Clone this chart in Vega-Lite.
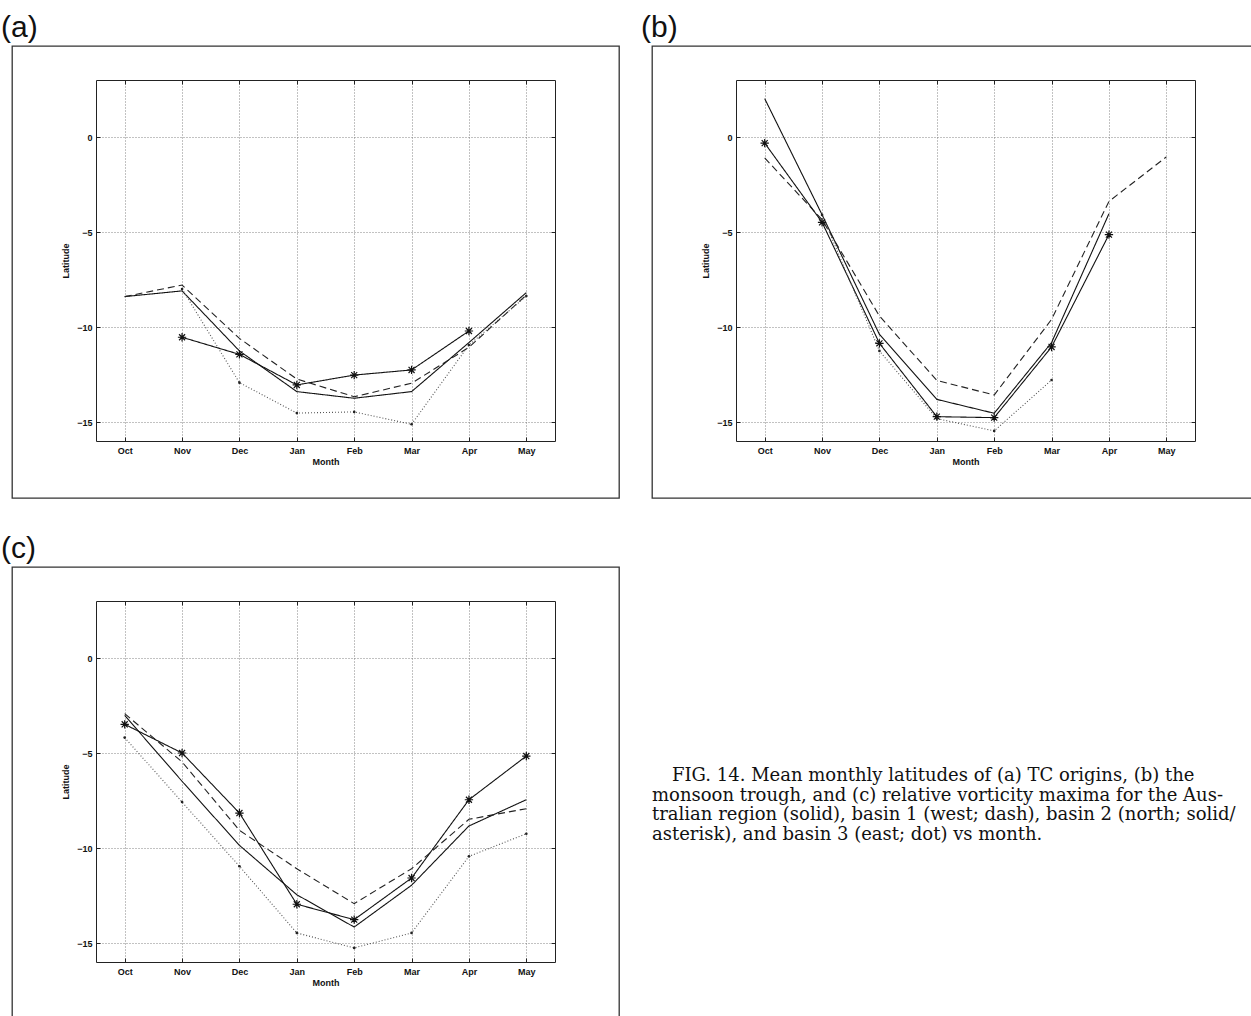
{
  "$schema": "https://vega.github.io/schema/vega-lite/v6.json",
  "background": "white",
  "padding": {"left": 0, "top": 12, "right": 0, "bottom": 0},
  "bounds": "flush",
  "columns": 2,
  "spacing": {"row": 69, "column": 33},
  "datasets": {
    "lat": [
      {"panel": "a", "series": "Australian region", "month": "Oct", "lat": -8.4},
      {"panel": "a", "series": "Australian region", "month": "Nov", "lat": -8.1},
      {"panel": "a", "series": "Australian region", "month": "Dec", "lat": -11.26},
      {"panel": "a", "series": "Australian region", "month": "Jan", "lat": -13.4},
      {"panel": "a", "series": "Australian region", "month": "Feb", "lat": -13.75},
      {"panel": "a", "series": "Australian region", "month": "Mar", "lat": -13.4},
      {"panel": "a", "series": "Australian region", "month": "Apr", "lat": -10.82},
      {"panel": "a", "series": "Australian region", "month": "May", "lat": -8.19},
      {"panel": "a", "series": "basin 1 (west)", "month": "Oct", "lat": -8.4},
      {"panel": "a", "series": "basin 1 (west)", "month": "Nov", "lat": -7.79},
      {"panel": "a", "series": "basin 1 (west)", "month": "Dec", "lat": -10.6},
      {"panel": "a", "series": "basin 1 (west)", "month": "Jan", "lat": -12.74},
      {"panel": "a", "series": "basin 1 (west)", "month": "Feb", "lat": -13.67},
      {"panel": "a", "series": "basin 1 (west)", "month": "Mar", "lat": -12.96},
      {"panel": "a", "series": "basin 1 (west)", "month": "Apr", "lat": -11.07},
      {"panel": "a", "series": "basin 1 (west)", "month": "May", "lat": -8.32},
      {"panel": "a", "series": "basin 2 (north)", "month": "Nov", "lat": -10.54},
      {"panel": "a", "series": "basin 2 (north)", "month": "Dec", "lat": -11.44},
      {"panel": "a", "series": "basin 2 (north)", "month": "Jan", "lat": -13.05},
      {"panel": "a", "series": "basin 2 (north)", "month": "Feb", "lat": -12.53},
      {"panel": "a", "series": "basin 2 (north)", "month": "Mar", "lat": -12.26},
      {"panel": "a", "series": "basin 2 (north)", "month": "Apr", "lat": -10.21},
      {"panel": "a", "series": "basin 3 (east)", "month": "Nov", "lat": -8.0},
      {"panel": "a", "series": "basin 3 (east)", "month": "Dec", "lat": -12.93},
      {"panel": "a", "series": "basin 3 (east)", "month": "Jan", "lat": -14.53},
      {"panel": "a", "series": "basin 3 (east)", "month": "Feb", "lat": -14.47},
      {"panel": "a", "series": "basin 3 (east)", "month": "Mar", "lat": -15.12},
      {"panel": "a", "series": "basin 3 (east)", "month": "Apr", "lat": -10.95},
      {"panel": "a", "series": "basin 3 (east)", "month": "May", "lat": -8.37},

      {"panel": "b", "series": "Australian region", "month": "Oct", "lat": 2.02},
      {"panel": "b", "series": "Australian region", "month": "Nov", "lat": -4.09},
      {"panel": "b", "series": "Australian region", "month": "Dec", "lat": -10.39},
      {"panel": "b", "series": "Australian region", "month": "Jan", "lat": -13.81},
      {"panel": "b", "series": "Australian region", "month": "Feb", "lat": -14.54},
      {"panel": "b", "series": "Australian region", "month": "Mar", "lat": -10.82},
      {"panel": "b", "series": "Australian region", "month": "Apr", "lat": -4.04},
      {"panel": "b", "series": "basin 1 (west)", "month": "Oct", "lat": -1.1},
      {"panel": "b", "series": "basin 1 (west)", "month": "Nov", "lat": -4.35},
      {"panel": "b", "series": "basin 1 (west)", "month": "Dec", "lat": -9.42},
      {"panel": "b", "series": "basin 1 (west)", "month": "Jan", "lat": -12.81},
      {"panel": "b", "series": "basin 1 (west)", "month": "Feb", "lat": -13.58},
      {"panel": "b", "series": "basin 1 (west)", "month": "Mar", "lat": -9.6},
      {"panel": "b", "series": "basin 1 (west)", "month": "Apr", "lat": -3.39},
      {"panel": "b", "series": "basin 1 (west)", "month": "May", "lat": -1.05},
      {"panel": "b", "series": "basin 2 (north)", "month": "Oct", "lat": -0.32},
      {"panel": "b", "series": "basin 2 (north)", "month": "Nov", "lat": -4.49},
      {"panel": "b", "series": "basin 2 (north)", "month": "Dec", "lat": -10.86},
      {"panel": "b", "series": "basin 2 (north)", "month": "Jan", "lat": -14.72},
      {"panel": "b", "series": "basin 2 (north)", "month": "Feb", "lat": -14.77},
      {"panel": "b", "series": "basin 2 (north)", "month": "Mar", "lat": -11.05},
      {"panel": "b", "series": "basin 2 (north)", "month": "Apr", "lat": -5.14},
      {"panel": "b", "series": "basin 3 (east)", "month": "Nov", "lat": -4.1},
      {"panel": "b", "series": "basin 3 (east)", "month": "Dec", "lat": -11.26},
      {"panel": "b", "series": "basin 3 (east)", "month": "Jan", "lat": -14.82},
      {"panel": "b", "series": "basin 3 (east)", "month": "Feb", "lat": -15.47},
      {"panel": "b", "series": "basin 3 (east)", "month": "Mar", "lat": -12.79},

      {"panel": "c", "series": "Australian region", "month": "Oct", "lat": -3.02},
      {"panel": "c", "series": "Australian region", "month": "Nov", "lat": -6.49},
      {"panel": "c", "series": "Australian region", "month": "Dec", "lat": -9.86},
      {"panel": "c", "series": "Australian region", "month": "Jan", "lat": -12.46},
      {"panel": "c", "series": "Australian region", "month": "Feb", "lat": -14.16},
      {"panel": "c", "series": "Australian region", "month": "Mar", "lat": -11.96},
      {"panel": "c", "series": "Australian region", "month": "Apr", "lat": -8.84},
      {"panel": "c", "series": "Australian region", "month": "May", "lat": -7.46},
      {"panel": "c", "series": "basin 1 (west)", "month": "Oct", "lat": -2.93},
      {"panel": "c", "series": "basin 1 (west)", "month": "Nov", "lat": -5.47},
      {"panel": "c", "series": "basin 1 (west)", "month": "Dec", "lat": -9.07},
      {"panel": "c", "series": "basin 1 (west)", "month": "Jan", "lat": -11.09},
      {"panel": "c", "series": "basin 1 (west)", "month": "Feb", "lat": -12.93},
      {"panel": "c", "series": "basin 1 (west)", "month": "Mar", "lat": -11.09},
      {"panel": "c", "series": "basin 1 (west)", "month": "Apr", "lat": -8.49},
      {"panel": "c", "series": "basin 1 (west)", "month": "May", "lat": -7.93},
      {"panel": "c", "series": "basin 2 (north)", "month": "Oct", "lat": -3.49},
      {"panel": "c", "series": "basin 2 (north)", "month": "Nov", "lat": -5.0},
      {"panel": "c", "series": "basin 2 (north)", "month": "Dec", "lat": -8.16},
      {"panel": "c", "series": "basin 2 (north)", "month": "Jan", "lat": -12.96},
      {"panel": "c", "series": "basin 2 (north)", "month": "Feb", "lat": -13.77},
      {"panel": "c", "series": "basin 2 (north)", "month": "Mar", "lat": -11.58},
      {"panel": "c", "series": "basin 2 (north)", "month": "Apr", "lat": -7.46},
      {"panel": "c", "series": "basin 2 (north)", "month": "May", "lat": -5.16},
      {"panel": "c", "series": "basin 3 (east)", "month": "Oct", "lat": -4.19},
      {"panel": "c", "series": "basin 3 (east)", "month": "Nov", "lat": -7.58},
      {"panel": "c", "series": "basin 3 (east)", "month": "Dec", "lat": -10.96},
      {"panel": "c", "series": "basin 3 (east)", "month": "Jan", "lat": -14.47},
      {"panel": "c", "series": "basin 3 (east)", "month": "Feb", "lat": -15.26},
      {"panel": "c", "series": "basin 3 (east)", "month": "Mar", "lat": -14.47},
      {"panel": "c", "series": "basin 3 (east)", "month": "Apr", "lat": -10.44},
      {"panel": "c", "series": "basin 3 (east)", "month": "May", "lat": -9.25}
    ]
  },
  "concat": [
    {
      "width": 607, "height": 452,
      "title": {"text": "(a)", "anchor": "start", "font": "Liberation Sans", "fontSize": 30, "fontWeight": "normal", "color": "#111", "offset": -21, "dx": -11, "baseline": "alphabetic"},
      "data": {"name": "lat"},
      "transform": [{"filter": "datum.panel == 'a'"}],
      "layer": [
        {
          "mark": {"type": "line", "strokeWidth": 1.1},
          "encoding": {
            "x": {"field": "month", "type": "ordinal", "scale": {"type": "point", "domain": ["Oct","Nov","Dec","Jan","Feb","Mar","Apr","May"], "range": [84, 543], "padding": 0.5}, "axis": {"orient": "bottom", "offset": -57, "title": "Month", "grid": false, "tickSize": -4, "labelPadding": 9, "titlePadding": 2, "labelAngle": 0}},
            "y": {"field": "lat", "type": "quantitative", "scale": {"domain": [-16, 3], "range": [395, 34], "nice": false, "zero": false}, "axis": {"orient": "left", "offset": -84, "values": [-15, -10, -5, 0], "title": "Latitude", "grid": true, "tickSize": -4, "labelPadding": 8, "titlePadding": 6}},
            "strokeDash": {"field": "series", "type": "nominal", "scale": {"domain": ["Australian region","basin 1 (west)","basin 2 (north)","basin 3 (east)"], "range": [[1,0],[7,4],[1,0],[1,2]]}, "legend": null},
            "color": {"field": "series", "type": "nominal", "scale": {"domain": ["Australian region","basin 1 (west)","basin 2 (north)","basin 3 (east)"], "range": ["#111","#222","#111","#555"]}, "legend": null}
          }
        },
        {
          "transform": [{"filter": "datum.series == 'basin 2 (north)'"}],
          "mark": {"type": "point", "shape": "M-1,0L1,0M0,-1L0,1M-0.72,-0.72L0.72,0.72M-0.72,0.72L0.72,-0.72", "filled": false, "size": 70, "strokeWidth": 1.2, "color": "#111", "opacity": 1},
          "encoding": {
            "x": {"field": "month", "type": "ordinal", "scale": {"type": "point", "domain": ["Oct","Nov","Dec","Jan","Feb","Mar","Apr","May"], "range": [84, 543], "padding": 0.5}, "axis": {"orient": "top", "offset": -34, "title": null, "labels": false, "grid": true, "tickSize": -4}},
            "y": {"field": "lat", "type": "quantitative", "scale": {"domain": [-16, 3], "range": [395, 34], "nice": false, "zero": false}, "axis": {"orient": "right", "offset": -64, "title": null, "labels": false, "grid": false, "tickSize": -4, "values": [-15, -10, -5, 0]}}
          }
        },
        {
          "transform": [{"filter": "datum.series == 'basin 3 (east)'"}],
          "mark": {"type": "point", "shape": "circle", "filled": true, "size": 7, "color": "#222", "opacity": 1},
          "encoding": {
            "x": {"field": "month", "type": "ordinal", "axis": null},
            "y": {"field": "lat", "type": "quantitative", "axis": null}
          }
        }
      ]
    },
    {
      "width": 607, "height": 452,
      "title": {"text": "(b)", "anchor": "start", "font": "Liberation Sans", "fontSize": 30, "fontWeight": "normal", "color": "#111", "offset": -21, "dx": -11, "baseline": "alphabetic"},
      "data": {"name": "lat"},
      "transform": [{"filter": "datum.panel == 'b'"}],
      "layer": [
        {
          "mark": {"type": "line", "strokeWidth": 1.1},
          "encoding": {
            "x": {"field": "month", "type": "ordinal", "scale": {"type": "point", "domain": ["Oct","Nov","Dec","Jan","Feb","Mar","Apr","May"], "range": [84, 543], "padding": 0.5}, "axis": {"orient": "bottom", "offset": -57, "title": "Month", "grid": false, "tickSize": -4, "labelPadding": 9, "titlePadding": 2, "labelAngle": 0}},
            "y": {"field": "lat", "type": "quantitative", "scale": {"domain": [-16, 3], "range": [395, 34], "nice": false, "zero": false}, "axis": {"orient": "left", "offset": -84, "values": [-15, -10, -5, 0], "title": "Latitude", "grid": true, "tickSize": -4, "labelPadding": 8, "titlePadding": 6}},
            "strokeDash": {"field": "series", "type": "nominal", "scale": {"domain": ["Australian region","basin 1 (west)","basin 2 (north)","basin 3 (east)"], "range": [[1,0],[7,4],[1,0],[1,2]]}, "legend": null},
            "color": {"field": "series", "type": "nominal", "scale": {"domain": ["Australian region","basin 1 (west)","basin 2 (north)","basin 3 (east)"], "range": ["#111","#222","#111","#555"]}, "legend": null}
          }
        },
        {
          "transform": [{"filter": "datum.series == 'basin 2 (north)'"}],
          "mark": {"type": "point", "shape": "M-1,0L1,0M0,-1L0,1M-0.72,-0.72L0.72,0.72M-0.72,0.72L0.72,-0.72", "filled": false, "size": 70, "strokeWidth": 1.2, "color": "#111", "opacity": 1},
          "encoding": {
            "x": {"field": "month", "type": "ordinal", "scale": {"type": "point", "domain": ["Oct","Nov","Dec","Jan","Feb","Mar","Apr","May"], "range": [84, 543], "padding": 0.5}, "axis": {"orient": "top", "offset": -34, "title": null, "labels": false, "grid": true, "tickSize": -4}},
            "y": {"field": "lat", "type": "quantitative", "scale": {"domain": [-16, 3], "range": [395, 34], "nice": false, "zero": false}, "axis": {"orient": "right", "offset": -64, "title": null, "labels": false, "grid": false, "tickSize": -4, "values": [-15, -10, -5, 0]}}
          }
        },
        {
          "transform": [{"filter": "datum.series == 'basin 3 (east)'"}],
          "mark": {"type": "point", "shape": "circle", "filled": true, "size": 7, "color": "#222", "opacity": 1},
          "encoding": {
            "x": {"field": "month", "type": "ordinal", "axis": null},
            "y": {"field": "lat", "type": "quantitative", "axis": null}
          }
        }
      ]
    },
    {
      "width": 607, "height": 452,
      "title": {"text": "(c)", "anchor": "start", "font": "Liberation Sans", "fontSize": 30, "fontWeight": "normal", "color": "#111", "offset": -21, "dx": -11, "baseline": "alphabetic"},
      "data": {"name": "lat"},
      "transform": [{"filter": "datum.panel == 'c'"}],
      "layer": [
        {
          "mark": {"type": "line", "strokeWidth": 1.1},
          "encoding": {
            "x": {"field": "month", "type": "ordinal", "scale": {"type": "point", "domain": ["Oct","Nov","Dec","Jan","Feb","Mar","Apr","May"], "range": [84, 543], "padding": 0.5}, "axis": {"orient": "bottom", "offset": -57, "title": "Month", "grid": false, "tickSize": -4, "labelPadding": 9, "titlePadding": 2, "labelAngle": 0}},
            "y": {"field": "lat", "type": "quantitative", "scale": {"domain": [-16, 3], "range": [395, 34], "nice": false, "zero": false}, "axis": {"orient": "left", "offset": -84, "values": [-15, -10, -5, 0], "title": "Latitude", "grid": true, "tickSize": -4, "labelPadding": 8, "titlePadding": 6}},
            "strokeDash": {"field": "series", "type": "nominal", "scale": {"domain": ["Australian region","basin 1 (west)","basin 2 (north)","basin 3 (east)"], "range": [[1,0],[7,4],[1,0],[1,2]]}, "legend": null},
            "color": {"field": "series", "type": "nominal", "scale": {"domain": ["Australian region","basin 1 (west)","basin 2 (north)","basin 3 (east)"], "range": ["#111","#222","#111","#555"]}, "legend": null}
          }
        },
        {
          "transform": [{"filter": "datum.series == 'basin 2 (north)'"}],
          "mark": {"type": "point", "shape": "M-1,0L1,0M0,-1L0,1M-0.72,-0.72L0.72,0.72M-0.72,0.72L0.72,-0.72", "filled": false, "size": 70, "strokeWidth": 1.2, "color": "#111", "opacity": 1},
          "encoding": {
            "x": {"field": "month", "type": "ordinal", "scale": {"type": "point", "domain": ["Oct","Nov","Dec","Jan","Feb","Mar","Apr","May"], "range": [84, 543], "padding": 0.5}, "axis": {"orient": "top", "offset": -34, "title": null, "labels": false, "grid": true, "tickSize": -4}},
            "y": {"field": "lat", "type": "quantitative", "scale": {"domain": [-16, 3], "range": [395, 34], "nice": false, "zero": false}, "axis": {"orient": "right", "offset": -64, "title": null, "labels": false, "grid": false, "tickSize": -4, "values": [-15, -10, -5, 0]}}
          }
        },
        {
          "transform": [{"filter": "datum.series == 'basin 3 (east)'"}],
          "mark": {"type": "point", "shape": "circle", "filled": true, "size": 7, "color": "#222", "opacity": 1},
          "encoding": {
            "x": {"field": "month", "type": "ordinal", "axis": null},
            "y": {"field": "lat", "type": "quantitative", "axis": null}
          }
        }
      ]
    },
    {
      "width": 590, "height": 452,
      "view": {"stroke": null},
      "data": {"values": [
        {"line": 1, "text": "FIG. 14. Mean monthly latitudes of (a) TC origins, (b) the"},
        {"line": 2, "text": "monsoon trough, and (c) relative vorticity maxima for the Aus-"},
        {"line": 3, "text": "tralian region (solid), basin 1 (west; dash), basin 2 (north; solid/"},
        {"line": 4, "text": "asterisk), and basin 3 (east; dot) vs month."}
      ]},
      "layer": [
        {
          "transform": [{"filter": "datum.line == 1"}],
          "mark": {"type": "text", "align": "left", "baseline": "alphabetic", "font": "DejaVu Serif", "fontSize": 18, "dx": 20, "color": "#111"},
          "encoding": {
            "x": {"datum": 0, "type": "quantitative", "scale": {"domain": [0, 1]}, "axis": null},
            "y": {"field": "line", "type": "quantitative", "scale": {"domain": [1, 4], "range": [214, 272.5]}, "axis": null},
            "text": {"field": "text"}
          }
        },
        {
          "transform": [{"filter": "datum.line > 1"}],
          "mark": {"type": "text", "align": "left", "baseline": "alphabetic", "font": "DejaVu Serif", "fontSize": 18, "color": "#111"},
          "encoding": {
            "x": {"datum": 0, "type": "quantitative", "scale": {"domain": [0, 1]}, "axis": null},
            "y": {"field": "line", "type": "quantitative", "scale": {"domain": [1, 4], "range": [214, 272.5]}, "axis": null},
            "text": {"field": "text"}
          }
        }
      ]
    }
  ],
  "config": {
    "font": "Liberation Sans",
    "view": {"stroke": "#333", "strokeWidth": 1.3},
    "axis": {
      "labelFont": "Liberation Sans", "labelFontSize": 9, "labelFontWeight": "bold", "labelColor": "#111",
      "titleFont": "Liberation Sans", "titleFontSize": 9, "titleFontWeight": "bold", "titleColor": "#111",
      "domainColor": "#222", "domainWidth": 1, "tickColor": "#222", "tickWidth": 1,
      "gridColor": "#666", "gridDash": [1, 2], "gridWidth": 0.8, "gridOpacity": 1
    }
  }
}
